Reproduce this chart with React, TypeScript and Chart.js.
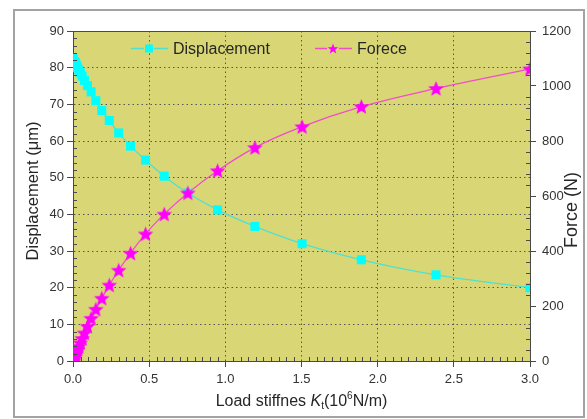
import { useEffect, useRef } from "react";
import { Chart, registerables } from "chart.js";

Chart.register(...registerables);

// Load stiffness K_t (10^6 N/m)
const stiffness = [
  0, 0.0095, 0.012, 0.015, 0.019, 0.024, 0.03, 0.038, 0.048, 0.06, 0.075, 0.095,
  0.119, 0.15, 0.189, 0.238, 0.3, 0.378, 0.476, 0.599, 0.754, 0.949, 1.194, 1.504,
  1.893, 2.383, 3.0,
];

// Displacement (µm)
const displacement = [
  82.5, 81.7, 81.5, 81.2, 80.9, 80.5, 80.0, 79.4, 78.6, 77.7, 76.5, 75.1, 73.4,
  71.0, 68.3, 65.6, 62.2, 58.6, 54.8, 50.4, 45.8, 41.2, 36.7, 32.0, 27.6, 23.5,
  20.0,
];

// Force (N)
const force = [
  0, 14, 17, 22, 27, 34, 42, 53, 66, 82, 102, 126, 155, 188, 228, 276, 330, 392,
  462, 534, 611, 692, 776, 852, 925, 991, 1062,
];

const xTickLabels = ["0.0", "0.5", "1.0", "1.5", "2.0", "2.5", "3.0"];
const leftTickLabels = ["0", "10", "20", "30", "40", "50", "60", "70", "80", "90"];
const rightTickLabels = ["0", "200", "400", "600", "800", "1000", "1200"];

const FONT = "Arial, 'Liberation Sans', sans-serif";
const PLOT_BG = "#d9d775";
const DISP_LINE = "#4fe0cf";
const DISP_MARK = "#00ffff";
const FORCE_LINE = "#f24ccb";
const FORCE_MARK = "#ff00ff";
const AXIS = "#4a4a4a";
const TEXT = "#262626";

function starPath(ctx: CanvasRenderingContext2D, cx: number, cy: number, R: number, r: number) {
  ctx.beginPath();
  for (let i = 0; i < 10; i++) {
    const ang = -Math.PI / 2 + (i * Math.PI) / 5;
    const rad = i % 2 === 0 ? R : r;
    const x = cx + rad * Math.cos(ang);
    const y = cy + rad * Math.sin(ang);
    if (i === 0) ctx.moveTo(x, y);
    else ctx.lineTo(x, y);
  }
  ctx.closePath();
}

function makeStar(size: number, color: string): HTMLCanvasElement {
  const c = document.createElement("canvas");
  c.width = size;
  c.height = size;
  const g = c.getContext("2d")!;
  g.fillStyle = color;
  starPath(g, size / 2, size / 2 + 0.6, size / 2 - 0.3, (size / 2) * 0.42);
  g.fill();
  return c;
}

const decorations = {
  id: "decorations",
  beforeDraw(chart: any) {
    const { ctx, width, height, chartArea: a } = chart;
    ctx.save();
    ctx.fillStyle = "#ffffff";
    ctx.fillRect(0, 0, width, height);
    ctx.strokeStyle = "#a3a3a3";
    ctx.lineWidth = 2;
    ctx.strokeRect(6, 2, 570, 407);
    ctx.fillStyle = PLOT_BG;
    ctx.fillRect(a.left, a.top, a.right - a.left, a.bottom - a.top);
    ctx.restore();
  },
  afterDraw(chart: any) {
    const { ctx, chartArea: a } = chart;
    const xs = chart.scales.x;
    const ys = chart.scales.y;
    const y1 = chart.scales.y1;
    ctx.save();

    // top frame line
    ctx.strokeStyle = AXIS;
    ctx.lineWidth = 1;
    ctx.beginPath();
    ctx.moveTo(a.left, a.top + 0.5);
    ctx.lineTo(a.right, a.top + 0.5);
    ctx.stroke();

    // minor ticks pointing inward
    ctx.beginPath();
    for (let i = 1; i < 60; i++) {
      if (i % 10 === 0) continue;
      const px = Math.round(xs.getPixelForValue(i * 0.05)) + 0.5;
      ctx.moveTo(px, a.bottom);
      ctx.lineTo(px, a.bottom - 4);
    }
    for (let i = 1; i < 45; i++) {
      if (i % 5 === 0) continue;
      const py = Math.round(ys.getPixelForValue(i * 2)) + 0.5;
      ctx.moveTo(a.left, py);
      ctx.lineTo(a.left + 4, py);
    }
    for (let i = 1; i < 30; i++) {
      if (i % 5 === 0) continue;
      const py = Math.round(y1.getPixelForValue(i * 40)) + 0.5;
      ctx.moveTo(a.right, py);
      ctx.lineTo(a.right - 4, py);
    }
    ctx.stroke();

    // legend
    const ly = 40.5;
    ctx.lineWidth = 1.3;
    ctx.strokeStyle = DISP_LINE;
    ctx.beginPath();
    ctx.moveTo(123, ly);
    ctx.lineTo(136, ly);
    ctx.moveTo(146, ly);
    ctx.lineTo(160, ly);
    ctx.stroke();
    ctx.fillStyle = DISP_MARK;
    ctx.fillRect(137, ly - 4, 8, 8);

    ctx.strokeStyle = FORCE_LINE;
    ctx.beginPath();
    ctx.moveTo(307, ly);
    ctx.lineTo(319, ly);
    ctx.moveTo(331, ly);
    ctx.lineTo(344, ly);
    ctx.stroke();
    ctx.fillStyle = FORCE_MARK;
    starPath(ctx, 325, ly + 0.5, 5.5, 2.3);
    ctx.fill();

    ctx.fillStyle = TEXT;
    ctx.font = `16px ${FONT}`;
    ctx.textBaseline = "middle";
    ctx.textAlign = "left";
    ctx.fillText("Displacement", 165, ly + 1);
    ctx.fillText("Forece", 349, ly + 1);

    // left axis title
    ctx.save();
    ctx.translate(25, 183);
    ctx.rotate(-Math.PI / 2);
    ctx.textAlign = "center";
    ctx.font = `16.5px ${FONT}`;
    ctx.fillText("Displacement (\u03bcm)", 0, 0);
    ctx.restore();

    // right axis title
    ctx.save();
    ctx.translate(564, 202);
    ctx.rotate(-Math.PI / 2);
    ctx.textAlign = "center";
    ctx.font = `18px ${FONT}`;
    ctx.fillText("Force (N)", 0, 0);
    ctx.restore();

    // bottom axis title with italic K, subscript t, superscript 6
    const parts: { t: string; f: string; dy: number }[] = [
      { t: "Load stiffnes ", f: `16px ${FONT}`, dy: 0 },
      { t: "K", f: `italic 16px ${FONT}`, dy: 0 },
      { t: "t", f: `10px ${FONT}`, dy: 4 },
      { t: "(10", f: `16px ${FONT}`, dy: 0 },
      { t: "6", f: `10px ${FONT}`, dy: -6 },
      { t: "N/m)", f: `16px ${FONT}`, dy: 0 },
    ];
    let total = 0;
    for (const p of parts) {
      ctx.font = p.f;
      total += ctx.measureText(p.t).width;
    }
    let cx = (a.left + a.right) / 2 - total / 2;
    const by = 394;
    ctx.textAlign = "left";
    for (const p of parts) {
      ctx.font = p.f;
      ctx.fillText(p.t, cx, by + p.dy);
      cx += ctx.measureText(p.t).width;
    }

    ctx.restore();
  },
};

export default function App() {
  const ref = useRef<HTMLCanvasElement | null>(null);

  useEffect(() => {
    if (!ref.current) return;
    const star = makeStar(17, FORCE_MARK);
    const chart = new Chart(ref.current, {
      type: "line",
      data: {
        datasets: [
          {
            label: "Forece",
            data: stiffness.map((x, i) => ({ x, y: force[i] })),
            yAxisID: "y1",
            borderColor: FORCE_LINE,
            borderWidth: 1.3,
            pointStyle: star as any,
            pointRadius: 8,
            cubicInterpolationMode: "monotone",
            clip: 0,
            order: 0,
          },
          {
            label: "Displacement",
            data: stiffness.map((x, i) => ({ x, y: displacement[i] })),
            yAxisID: "y",
            borderColor: DISP_LINE,
            borderWidth: 1.3,
            pointStyle: "rect",
            pointRadius: 6.4,
            pointBackgroundColor: DISP_MARK,
            pointBorderWidth: 0,
            cubicInterpolationMode: "monotone",
            clip: 0,
            order: 1,
          },
        ],
      },
      options: {
        responsive: false,
        animation: false,
        devicePixelRatio: 1,
        layout: { padding: { top: 23, left: 0, right: 0, bottom: 0 } },
        plugins: {
          legend: { display: false },
          tooltip: { enabled: false },
        },
        scales: {
          x: {
            type: "linear",
            min: 0,
            max: 3,
            afterFit: (s: any) => {
              s.height = 58;
            },
            ticks: {
              stepSize: 0.5,
              color: "#333",
              font: { family: FONT, size: 13 },
              padding: 5,
              maxRotation: 0,
              callback: (_v: any, i: number) => xTickLabels[i],
            },
            grid: {
              color: "#555",
              lineWidth: 1,
              drawTicks: true,
              tickLength: 6,
              tickColor: AXIS,
            },
            border: { display: true, color: AXIS, width: 1, dash: [1.5, 3] },
          },
          y: {
            type: "linear",
            position: "left",
            min: 0,
            max: 90,
            afterFit: (s: any) => {
              s.width = 65;
            },
            ticks: {
              stepSize: 10,
              color: "#333",
              font: { family: FONT, size: 13 },
              padding: 3,
              callback: (_v: any, i: number) => leftTickLabels[i],
            },
            grid: {
              color: "#555",
              lineWidth: 1,
              drawTicks: true,
              tickLength: 6,
              tickColor: AXIS,
            },
            border: { display: true, color: AXIS, width: 1, dash: [1.5, 3] },
          },
          y1: {
            type: "linear",
            position: "right",
            min: 0,
            max: 1200,
            afterFit: (s: any) => {
              s.width = 57;
            },
            ticks: {
              stepSize: 200,
              color: "#333",
              font: { family: FONT, size: 13 },
              padding: 6,
              callback: (_v: any, i: number) => rightTickLabels[i],
            },
            grid: {
              drawOnChartArea: false,
              drawTicks: true,
              tickLength: 6,
              tickColor: AXIS,
            },
            border: { display: true, color: AXIS, width: 1 },
          },
        },
      },
      plugins: [decorations],
    } as any);
    return () => chart.destroy();
  }, []);

  return (
    <div style={{ position: "fixed", left: 8, top: 8, width: 579, height: 411 }}>
      <canvas ref={ref} width={579} height={411} style={{ display: "block" }} />
    </div>
  );
}
